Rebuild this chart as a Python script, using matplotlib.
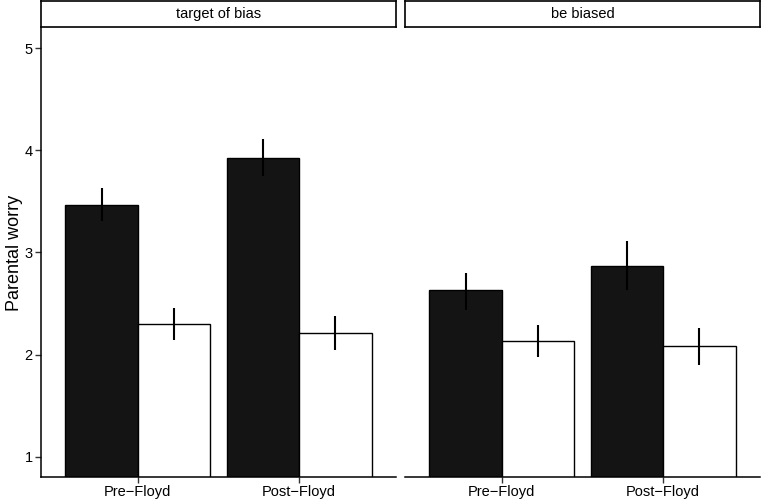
import numpy as np
import matplotlib
matplotlib.use("Agg")
import matplotlib.pyplot as plt

plt.rcParams['font.family'] = ['Liberation Sans', 'DejaVu Sans']

panels = ['target of bias', 'be biased']
periods = ['Pre\u2212Floyd', 'Post\u2212Floyd']

# black bars (first group), white bars (second group)
black_mean = [[3.47, 3.93], [2.63, 2.87]]
black_lo = [[3.31, 3.75], [2.44, 2.63]]
black_hi = [[3.63, 4.11], [2.80, 3.11]]
white_mean = [[2.30, 2.21], [2.13, 2.08]]
white_lo = [[2.14, 2.04], [1.98, 1.90]]
white_hi = [[2.46, 2.38], [2.29, 2.26]]

fig = plt.figure(figsize=(7.62, 5.0), dpi=100)
W, H = 762, 500

def ax_px(x0, y0, x1, y1):
    return fig.add_axes([x0 / W, 1 - y1 / H, (x1 - x0) / W, (y1 - y0) / H])

bounds = [(41, 396), (405, 760)]
bw = 0.45
x = np.arange(1, 3)

for p, (x0, x1) in enumerate(bounds):
    ax = ax_px(x0, 28, x1, 477)
    ax.bar(x - bw / 2, black_mean[p], width=bw, color='#141414', edgecolor='black', linewidth=1)
    ax.bar(x + bw / 2, white_mean[p], width=bw, color='white', edgecolor='black', linewidth=1)
    ax.vlines(x - bw / 2, black_lo[p], black_hi[p], color='black', linewidth=1.5)
    ax.vlines(x + bw / 2, white_lo[p], white_hi[p], color='black', linewidth=1.5)
    ax.set_xlim(0.4, 2.6)
    ax.set_ylim(0.8, 5.2)
    ax.set_xticks(x)
    ax.set_xticklabels(periods, fontsize=10.5)
    ax.spines['top'].set_visible(False)
    ax.spines['right'].set_visible(False)
    ax.spines['bottom'].set_linewidth(1.1)
    ax.tick_params(axis='both', length=4, width=1, color='#333333', labelsize=10.5, pad=2)
    if p == 0:
        ax.set_yticks([1, 2, 3, 4, 5])
        ax.spines['left'].set_linewidth(1.1)
        ax.set_ylabel('Parental worry', fontsize=13, labelpad=1)
    else:
        ax.spines['left'].set_visible(False)
        ax.set_yticks([])

    sx = ax_px(x0, 1, x1, 27)
    sx.set_xticks([])
    sx.set_yticks([])
    for s in sx.spines.values():
        s.set_linewidth(1.2)
    sx.text(0.5, 0.5, panels[p], ha='center', va='center', fontsize=10.5, transform=sx.transAxes)

fig.savefig('out.png', dpi=100)
